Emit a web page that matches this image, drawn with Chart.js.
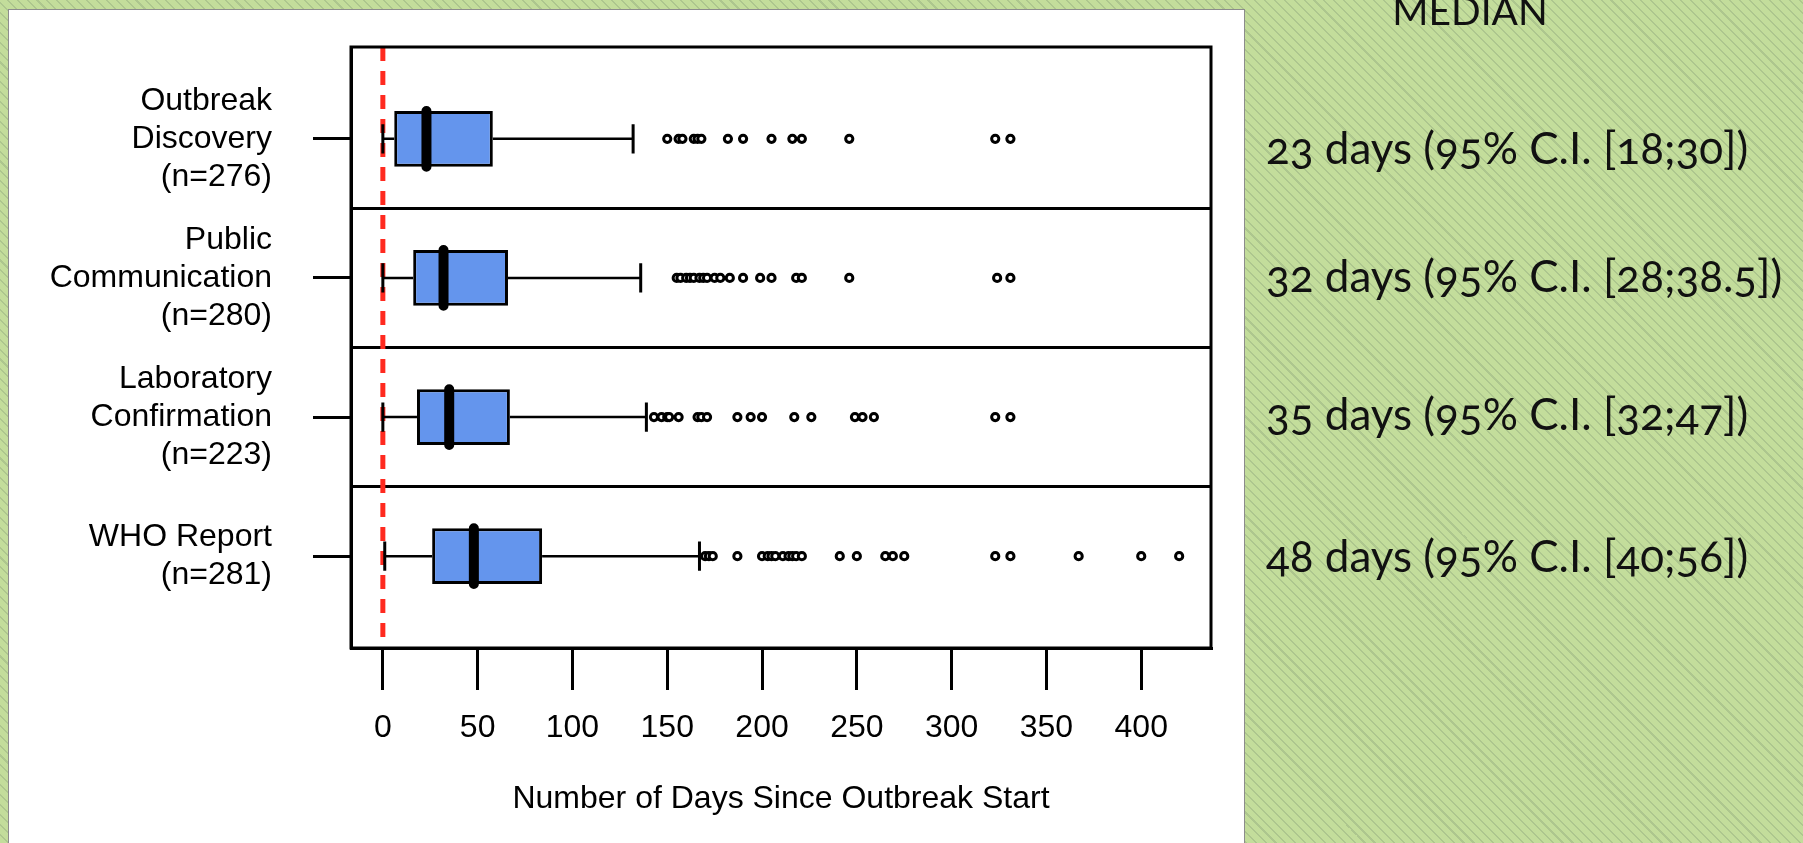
<!DOCTYPE html>
<html>
<head>
<meta charset="utf-8">
<script src="https://cdn.jsdelivr.net/npm/chart.js@4.4.0/dist/chart.umd.min.js"></script>
<style>
  html, body { margin: 0; padding: 0; }
  body {
    width: 1803px; height: 843px; overflow: hidden; position: relative;
    background-color: #c3dd9b;
    background-image: repeating-linear-gradient(45deg, #c3dd9b 0px, #c3dd9b 5.5px, #adc68e 5.5px, #adc68e 7px);
  }
  #panel { position: absolute; left: 8px; top: 9px; width: 1235px; height: 840px; background: #fff; border: 1px solid #8c8c8c; }
  #chart { position: absolute; left: 0; top: 0; }
  .note { position: absolute; left: 1266px; font-family: Lato, "Open Sans", sans-serif; font-size: 44px; line-height: 1; color: #111; white-space: nowrap; font-variant-numeric: oldstyle-nums; }
  #heading { left: 1270px; width: 400px; text-align: center; top: -9px; font-size: 39px; }
</style>
</head>
<body>
<div id="panel"></div>
<canvas id="chart" width="1803" height="843"></canvas>
<div class="note" id="heading">MEDIAN</div>
<div id="notes"></div>
<script>
  // groups, top to bottom
  const categories = [
    ['Outbreak', 'Discovery', '(n=276)'],
    ['Public', 'Communication', '(n=280)'],
    ['Laboratory', 'Confirmation', '(n=223)'],
    ['WHO Report', '(n=281)']
  ];
  const rows = [1, 2, 3, 4];

  // box plot summaries (days)
  const lowWhisker = [0, 0, 0, 1];
  const q1 = [6, 16, 18, 26];
  const medians = [23, 32, 35, 48];
  const q3 = [58, 66, 67, 84];
  const highWhisker = [132, 136, 139, 167];

  const outliersDiscovery = [150, 156, 158, 164, 166, 168, 182, 190, 205, 216, 221, 246, 323, 331];
  const outliersPublic = [155, 157, 160, 162, 164, 167, 169, 171, 175, 178, 183, 190, 199, 205, 218, 221, 246, 324, 331];
  const outliersLab = [143, 147, 150, 151, 156, 166, 168, 171, 187, 194, 200, 217, 226, 249, 253, 259, 323, 331];
  const outliersWHO = [170, 172, 174, 187, 200, 203, 205, 207, 211, 214, 216, 218, 221, 241, 250, 265, 269, 275, 323, 331, 367, 400, 420];
  const outliers = [outliersDiscovery, outliersPublic, outliersLab, outliersWHO];

  const xTicks = [0, 50, 100, 150, 200, 250, 300, 350, 400];
  const xMin = -16.8, xMax = 436.8;
  const yMin = 0.34, yMax = 4.66;
  const separatorsAt = [1.5, 2.5, 3.5];

  const medianNotes = [
    '23 days (95% C.I. [18;30])',
    '32 days (95% C.I. [28;38.5])',
    '35 days (95% C.I. [32;47])',
    '48 days (95% C.I. [40;56])'
  ];
  const noteTops = [125, 253, 391, 533];

  const notesEl = document.getElementById('notes');
  medianNotes.forEach((t, i) => {
    const d = document.createElement('div');
    d.className = 'note';
    d.style.top = noteTops[i] + 'px';
    d.textContent = t;
    notesEl.appendChild(d);
  });

  const boxHalf = 0.2;
  const capHalf = 0.105;
  const gap = {x: null, y: null};

  const whiskerPts = [], capPts = [], medianPts = [], outlierPts = [];
  rows.forEach((r, i) => {
    whiskerPts.push({x: lowWhisker[i], y: r}, {x: q1[i], y: r}, gap, {x: q3[i], y: r}, {x: highWhisker[i], y: r}, gap);
    capPts.push({x: lowWhisker[i], y: r - capHalf}, {x: lowWhisker[i], y: r + capHalf}, gap,
                {x: highWhisker[i], y: r - capHalf}, {x: highWhisker[i], y: r + capHalf}, gap);
    medianPts.push({x: medians[i], y: r - boxHalf}, {x: medians[i], y: r + boxHalf}, gap);
    outliers[i].forEach(v => outlierPts.push({x: v, y: r}));
  });

  const sepPts = [];
  separatorsAt.forEach(y => sepPts.push({x: xMin, y: y}, {x: xMax, y: y}, gap));

  // full box round the plot area
  const frame = {
    id: 'frame',
    afterDatasetsDraw(chart) {
      const {ctx, chartArea: a} = chart;
      ctx.save();
      ctx.lineWidth = 3;
      ctx.strokeStyle = '#000';
      ctx.strokeRect(a.left, a.top, a.right - a.left, a.bottom - a.top);
      ctx.restore();
    }
  };

  const axisFont = {family: '"Liberation Sans", Arial, sans-serif', size: 32};
  const lineStyle = {type: 'line', pointRadius: 0, borderColor: '#000', tension: 0, spanGaps: false};

  new Chart(document.getElementById('chart'), {
    type: 'bar',
    data: {
      datasets: [
        {type: 'scatter', data: outlierPts, pointRadius: 3.6, borderWidth: 3,
         borderColor: '#000', backgroundColor: '#fff', order: 0},
        Object.assign({}, lineStyle, {data: medianPts, borderWidth: 10, borderCapStyle: 'round', order: 1}),
        Object.assign({}, lineStyle, {data: capPts, borderWidth: 3, order: 2}),
        Object.assign({}, lineStyle, {data: whiskerPts, borderWidth: 2.5, order: 3}),
        {type: 'bar', indexAxis: 'y',
         data: rows.map((r, i) => ({x: [q1[i], q3[i]], y: r})),
         backgroundColor: '#6495ed', borderColor: '#000', borderWidth: 3, borderSkipped: false,
         barPercentage: 0.4, categoryPercentage: 1, order: 4},
        Object.assign({}, lineStyle, {data: [{x: 0, y: yMin}, {x: 0, y: yMax}],
         borderColor: '#ff2a1f', borderWidth: 5, borderDash: [14, 10], order: 5}),
        Object.assign({}, lineStyle, {data: sepPts, borderWidth: 3, order: 6})
      ]
    },
    options: {
      responsive: false,
      animation: false,
      events: [],
      layout: {padding: {top: 47, right: 592, left: 0, bottom: 0}},
      plugins: {legend: {display: false}, tooltip: {enabled: false}},
      scales: {
        x: {
          type: 'linear', position: 'bottom', min: xMin, max: xMax, offset: false,
          afterBuildTicks: s => { s.ticks = xTicks.map(v => ({value: v})); },
          afterFit: s => { s.height = 195; s.paddingLeft = 0; s.paddingRight = 0; },
          border: {display: true, color: '#000', width: 3},
          grid: {offset: false, drawOnChartArea: false, color: '#000', lineWidth: 3, tickLength: 42},
          ticks: {font: axisFont, color: '#000', padding: 19, maxRotation: 0, autoSkip: false},
          title: {display: true, text: 'Number of Days Since Outbreak Start', color: '#000',
                  font: axisFont, padding: {top: 0, bottom: 25}}
        },
        y: {
          type: 'linear', position: 'left', reverse: true, min: yMin, max: yMax, offset: false,
          afterBuildTicks: s => { s.ticks = rows.map(v => ({value: v})); },
          afterFit: s => { s.width = 351; s.paddingTop = 0; s.paddingBottom = 0; },
          border: {display: true, color: '#000', width: 3},
          grid: {offset: false, drawOnChartArea: false, color: '#000', lineWidth: 3, tickLength: 38},
          ticks: {font: Object.assign({}, axisFont, {lineHeight: 1.19}), color: '#000', padding: 41,
                  autoSkip: false, callback: (v, i) => categories[i]}
        }
      }
    },
    plugins: [frame]
  });
</script>
</body>
</html>
